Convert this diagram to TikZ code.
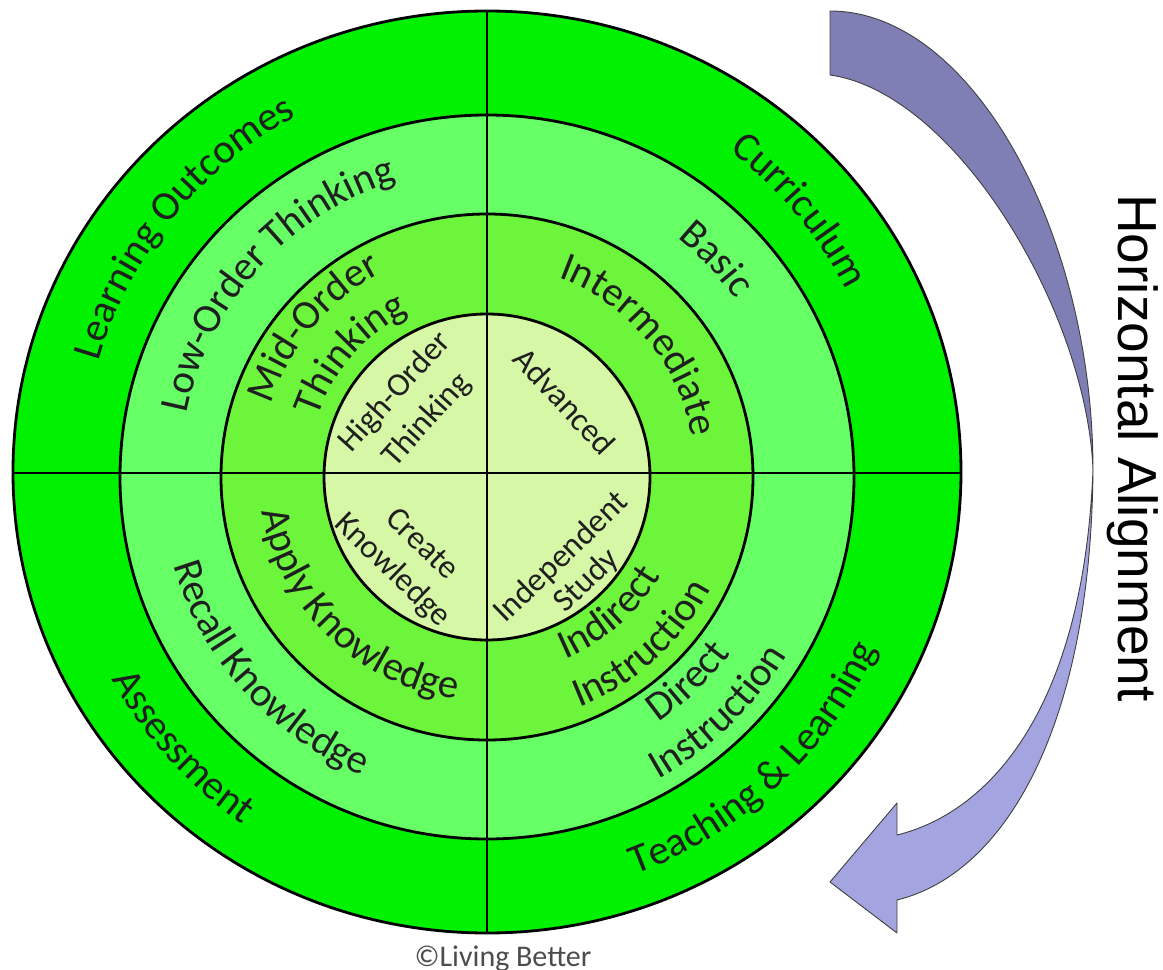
\documentclass[tikz,border=0pt]{standalone}
\usepackage{fontspec}
\setmainfont{Carlito}
\newfontfamily\arialfont{Liberation Sans}
\usepackage{tikz}
\usetikzlibrary{decorations.text}
\definecolor{outerRing}{RGB}{0,242,0}
\definecolor{basicRing}{RGB}{102,255,102}
\definecolor{midRing}{RGB}{108,245,58}
\definecolor{coreRing}{RGB}{214,247,166}
\definecolor{alignBack}{RGB}{127,127,182}
\definecolor{alignFront}{RGB}{164,164,224}
\colorlet{ringText}{black!88}
\newcommand\ringfont{\fontsize{41}{49}\selectfont\color{ringText}}
\newcommand\corefont{\fontsize{33}{40}\selectfont}

\begin{document}
\begin{tikzpicture}[
  x=1pt, y=1pt,
  ring edge/.style={draw=black, line width=2.8pt},
  ring text/.style={decorate, decoration={text along path, text align=center}},
  core text/.style={font=\corefont, text=ringText, inner sep=0pt},
  align arrow/.style={draw=black!75, line width=0.9pt, line join=round}
]
\useasboundingbox (-487,-497) rectangle (676,473);
% rings, outside in
\foreach \rx/\ry/\dy/\col in {474/461/1/outerRing, 367/362/-4/basicRing, 266/263/-4/midRing, 163/163/-4/coreRing}
  \draw[ring edge, fill=\col] (0,\dy) ellipse[x radius=\rx, y radius=\ry];
\draw[ring edge] (-474,0) -- (474,0) (0,462) -- (0,-460);
% upper labels run clockwise
\foreach \c/\r/\lbl in {141/404/Learning Outcomes, 138/306/Low-Order Thinking, 140/226/Mid-Order, 139/178/Thinking,
    40/403/Curriculum, 43/303/Basic, 40/208/Intermediate}
  \path[ring text, decoration={text/.expanded={|\noexpand\ringfont|\lbl}}]
    (\c+90:\r) arc[start angle=\c+90, end angle=\c-90, radius=\r];
% lower labels run anticlockwise
\foreach \c/\r/\lbl in {222/428/Assessment, 222/327/Recall Knowledge, 226/228/Apply Knowledge,
    -47/428/Teaching {\&} Learning, -46/303/Direct, -46/351/Instruction, -49/202/Indirect, -48/252/Instruction}
  \path[ring text, decoration={text/.expanded={|\noexpand\ringfont|\lbl}}]
    (\c-90:\r) arc[start angle=\c-90, end angle=\c+90, radius=\r];
% core, straight text
\foreach \a/\r/\t/\lbl in {138.7/122/48/High-Order, 138.6/80/48/Thinking, 42.7/106/-47/Advanced,
    227.6/95/-44/Create, 225.9/136/-44/Knowledge, -48.6/113/44/Independent, -47.2/147/44/Study}
  \node[core text, rotate=\t] (core \lbl) at (\a:\r) {\lbl};
% alignment arrow, back face then front face
\draw[align arrow, fill=alignBack] (343,462) .. controls (485,462) and (606,240) .. (606,3)
  .. controls (600,160) and (470,380) .. (343,398) -- cycle;
\draw[align arrow, fill=alignFront] (606,3) .. controls (604,-250) and (520,-400) .. (410,-427)
  -- (410,-460) -- (343,-409) -- (410,-330) -- (410,-362)
  .. controls (500,-340) and (596,-240) .. (606,3) -- cycle;
\node[font=\arialfont\fontsize{55}{66}\selectfont, rotate=-90, anchor=base] (align) at (631,25) {Horizontal Alignment};
\node[font=\fontsize{30}{36}\selectfont, text=black!70, anchor=base] (credit) at (16,-493) {©Living Better};
\end{tikzpicture}
\end{document}
